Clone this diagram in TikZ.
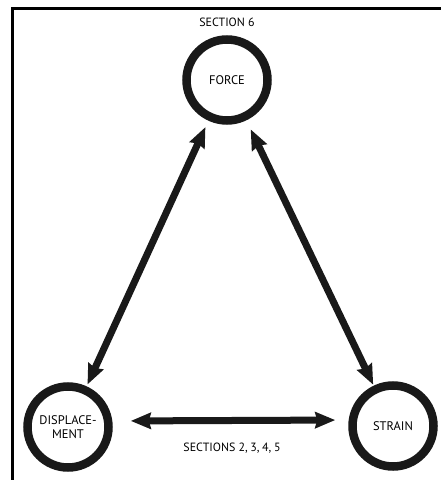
\documentclass[tikz,border=0pt]{standalone}
\usepackage{fontspec}
\setmainfont{PT Sans}
\usetikzlibrary{arrows.meta}
\begin{document}
\begin{tikzpicture}[x=1bp,y=-1bp,
  ring/.style={circle,draw=black!90,line width=8.5bp,minimum size=81bp,inner sep=0pt,align=center,font=\fontsize{12.5}{14}\selectfont},
  link/.style={line width=7bp,black!90,{Stealth[length=20bp,width=16bp,inset=2bp]}-{Stealth[length=20bp,width=16bp,inset=2bp]}},
  lbl/.style={font=\fontsize{12}{14}\selectfont}]
\useasboundingbox (0,0) rectangle (441,480);
\draw[line width=3.2bp] (12.5,480) -- (12.5,8.4) -- (441,8.4);
\node[ring] (f) at (227,80) {FORCE};
\node[ring] (d) at (68,427) {DISPLACE-\\MENT};
\node[ring] (s) at (393,426) {STRAIN};
\node[lbl] (t) at (227,22) {SECTION 6};
\node[lbl] (b) at (232,448) {SECTIONS 2,\kern2.6pt3,\kern2.6pt4,\kern2.6pt5};
\draw[link,shorten <=7bp,shorten >=2bp] (f) -- (d);
\draw[link,shorten <=10bp,shorten >=1bp] (f) -- (s);
\draw[link,shorten <=18bp,shorten >=13bp] ([yshift=6bp]d.east) -- ([yshift=6bp]s.west);
\end{tikzpicture}
\end{document}
